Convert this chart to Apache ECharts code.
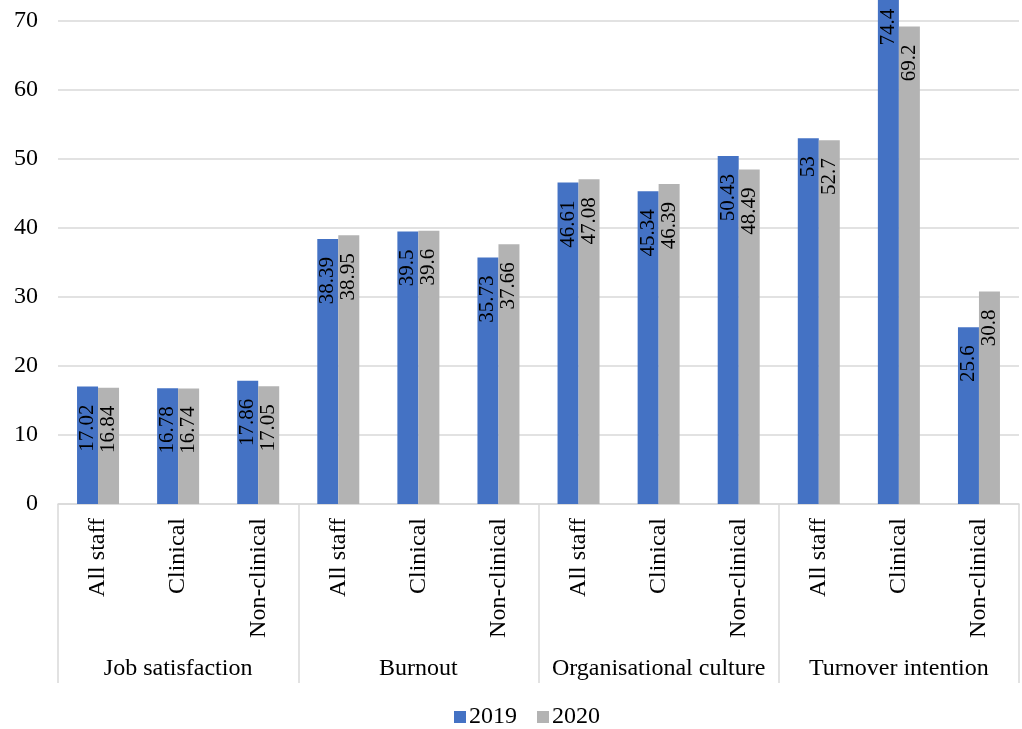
<!DOCTYPE html>
<html>
<head>
<meta charset="utf-8">
<script src="https://cdn.jsdelivr.net/npm/echarts@6/dist/echarts.min.js"></script>
<style>
  html, body { margin: 0; padding: 0; background: #fff; }
  #chart { width: 1022px; height: 729px; }
</style>
</head>
<body>
<div id="chart"></div>
<script>
const groups = ['Job satisfaction', 'Burnout', 'Organisational culture', 'Turnover intention'];
const subgroups = ['All staff', 'Clinical', 'Non-clinical'];
const categories = groups.flatMap(() => subgroups);
const values2019 = [17.02, 16.78, 17.86, 38.39, 39.5, 35.73, 46.61, 45.34, 50.43, 53, 74.4, 25.6];
const values2020 = [16.84, 16.74, 17.05, 38.95, 39.6, 37.66, 47.08, 46.39, 48.49, 52.7, 69.2, 30.8];
const yTicks = [0, 10, 20, 30, 40, 50, 60, 70];

const font = 'Liberation Serif';
const lineColor = '#d9d9d9';

const barLabel = {
  show: true,
  position: 'insideTop',
  rotate: 90,
  align: 'right',
  verticalAlign: 'middle',
  distance: 18,
  fontFamily: font,
  fontSize: 21,
  color: '#000'
};

const chart = echarts.init(document.getElementById('chart'));
chart.setOption({
  animation: false,
  textStyle: { fontFamily: font },
  grid: { left: 58, right: 3, top: 21, bottom: 225, containLabel: false, outerBoundsMode: 'none' },
  legend: {
    bottom: -5,
    left: 449,
    itemWidth: 12,
    itemHeight: 12,
    itemGap: 20,
    icon: 'rect',
    textStyle: { fontFamily: font, fontSize: 24, color: '#000', padding: [0, 0, 0, -2] },
    data: ['2019', '2020']
  },
  xAxis: [
    {
      type: 'category',
      data: categories,
      axisLine: { lineStyle: { color: lineColor, width: 1.5 } },
      axisTick: { show: false },
      axisLabel: {
        interval: 0,
        rotate: 90,
        margin: 14,
        fontFamily: font,
        fontSize: 24,
        color: '#000'
      }
    },
    {
      type: 'category',
      position: 'bottom',
      data: groups,
      axisLine: { show: false },
      axisTick: { show: true, length: 179, lineStyle: { color: lineColor, width: 1.5 } },
      axisLabel: {
        interval: 0,
        margin: 153,
        fontFamily: font,
        fontSize: 24,
        color: '#000'
      }
    }
  ],
  yAxis: {
    type: 'value',
    min: yTicks[0],
    max: yTicks[yTicks.length - 1],
    interval: 10,
    axisLine: { show: false },
    axisTick: { show: false },
    splitLine: { lineStyle: { color: lineColor, width: 1.5 } },
    axisLabel: { margin: 20, fontFamily: font, fontSize: 24, color: '#000' }
  },
  series: [
    {
      name: '2019',
      type: 'bar',
      data: values2019,
      clip: false,
      barWidth: 21,
      barGap: '0%',
      itemStyle: { color: '#4472C4' },
      label: barLabel
    },
    {
      name: '2020',
      type: 'bar',
      data: values2020,
      clip: false,
      barWidth: 21,
      barGap: '0%',
      itemStyle: { color: '#B3B3B3' },
      label: barLabel
    }
  ]
});
</script>
</body>
</html>
